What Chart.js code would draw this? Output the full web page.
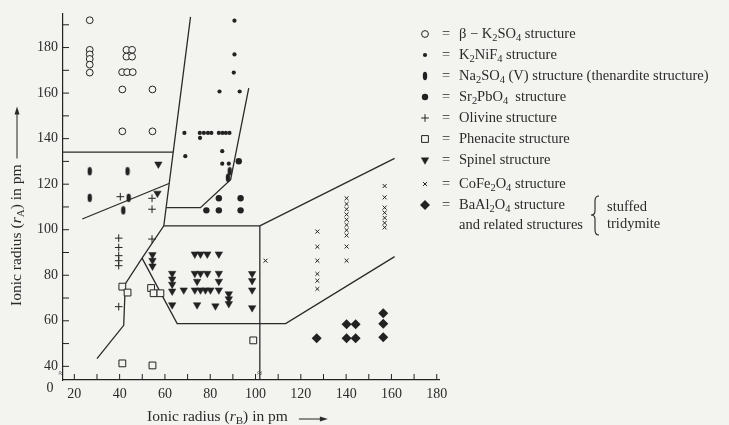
<!DOCTYPE html>
<html>
<head>
<meta charset="utf-8">
<script src="https://cdn.jsdelivr.net/npm/chart.js@4.4.1/dist/chart.umd.min.js"></script>
<style>
html,body{margin:0;padding:0;background:#f3f3f0;}
#wrap{width:729px;height:425px;position:relative;}
</style>
</head>
<body>
<div id="wrap"><canvas id="chart" width="729" height="425"></canvas></div>
<script>
// ionic radius r_B (x) and r_A (y), pm
var betaK2SO4 = [[26.8,192],[26.8,179],[26.8,177],[26.8,175],[26.8,172.5],[26.8,169],
  [43,179],[45.5,179],[43,176],[45.5,176],[41.1,169.2],[43.3,169.2],[45.8,169.2],
  [41.2,161.6],[54.5,161.6],[41.2,143.2],[54.5,143.2]];
var k2NiF4 = [[90.7,191.8],[90.7,177],[90.4,169],[84.1,160.7],[93,160.7],[68.6,142.5],[69,132.3],
  [75.4,142.5],[77.2,142.5],[79,142.5],[80.5,142.5],[75.5,140.3],[83.8,142.5],[85.4,142.5],
  [86.9,142.5],[88.5,142.5],[85.3,134.5],[85.3,129],[88.2,129]];
var na2SO4 = [[26.8,125.7],[26.8,114],[43.5,125.7],[44,114],[41.6,108.5],[88.6,125.7],[87.8,122.8]];
var sr2PbO4 = [[83.8,113.8],[93.4,113.8],[78.3,108.5],[83.8,108.5],[93.4,108.5],[92.6,130.1]];
var olivine = [[40.3,114.5],[54.3,113.8],[54.3,109],[39.6,96.3],[39.6,92.2],[39.6,88.6],[39.6,86.4],
  [39.6,84.2],[39.6,66.2],[54.3,95.9]];
var phenacite = [[41.2,41.3],[54.5,40.4],[41.2,75],[43.5,72.4],[53.9,74.4],[55,72.1],[58,72.1],[99,51.4]];
var spinel = [[57.1,128.8],[56.7,116],[54.5,89],[54.5,86.5],[54.5,84],
  [63.2,80.8],[63.2,78.3],[63.2,76],[63.2,73],[63.2,67],[68.3,73.5],
  [73.2,89.3],[73.2,80.8],[73.2,73.5],[74.2,77.3],[74.2,67],[75.7,89.3],[75.7,80.8],[75.7,73.5],
  [77.9,73.5],[78.7,89.3],[78.7,80.8],[80.1,73.5],[83.8,89.3],[83.8,80.8],[83.8,77.3],[83.8,73.5],
  [82.3,66.5],[88.2,71.8],[88.2,69.6],[88.2,67.5],[98.5,80.7],[98.5,77.6],[98.5,73.5],[98.5,65.7]];
var coFe2O4 = [[104.4,86.4],[127.3,99.2],[127.3,92.5],[127.3,86.4],[127.3,80.6],[127.3,77.6],[127.3,74],
  [140.2,113.8],[140.2,111.3],[140.2,109],[140.2,106.7],[140.2,104.4],[140.2,102.1],[140.2,99.8],
  [140.2,97.5],[140.2,92.6],[140.2,86.4],
  [157,119.2],[157,114.2],[157,109.7],[157,107.5],[157,105.2],[157,103],[157,101]];
var baAl2O4 = [[127,52.3],[140.2,58.5],[144.2,58.5],[140.2,52.3],[144.2,52.3],[156.4,63.3],[156.4,58.7],[156.4,52.8]];

// field boundaries
var boundaryMain = [[71.3,193.5],[59.5,101.7],[49.9,87.5],[42.5,76.2],[41.8,58],[30,43.4]];
var boundaryTop = [[15,134.1],[63.6,134.1]];
var boundaryNa = [[23.5,104.7],[61.8,120.3]];
var boundaryK2NiF4 = [[60.6,109.7],[75.7,109.7],[89,122],[97,162.2]];
var boundaryMid = [[59.5,101.7],[101.9,101.7],[101.9,34]];
var boundaryRight = [[101.9,101.7],[161.4,131.3]];
var boundarySpinel = [[49.9,87.5],[65.4,58.8],[113.3,58.8],[161.4,88.2]];

var xTicks = [20,40,60,80,100,120,140,160,180];
var yTicks = [40,60,80,100,120,140,160,180];

var legendLabels = ['β − K_2SO_4 structure', 'K_2NiF_4 structure',
  'Na_2SO_4 (V) structure (thenardite structure)', 'Sr_2PbO_4  structure',
  'Olivine structure', 'Phenacite structure', 'Spinel structure',
  'CoFe_2O_4 structure', 'BaAl_2O_4 structure'];

var ink = '#222';
var FONT = '"Liberation Serif", "DejaVu Serif", serif';

// elongated dot for the thenardite points
var oval = document.createElement('canvas');
oval.width = 6; oval.height = 10;
var oc = oval.getContext('2d');
oc.fillStyle = ink;
oc.beginPath(); oc.ellipse(3, 5, 2.2, 4.2, 0, 0, Math.PI * 2); oc.fill();

var markers = [
  {pointStyle:'circle', radius:3.4, backgroundColor:'#f3f3f0', borderColor:ink, borderWidth:1},
  {pointStyle:'circle', radius:2.1, backgroundColor:ink, borderColor:ink, borderWidth:0},
  {pointStyle:oval, radius:4, backgroundColor:ink, borderColor:ink, borderWidth:0},
  {pointStyle:'circle', radius:3.2, backgroundColor:ink, borderColor:ink, borderWidth:0},
  {pointStyle:'cross', radius:3.8, backgroundColor:ink, borderColor:ink, borderWidth:1},
  {pointStyle:'rect', radius:4.8, backgroundColor:'#f3f3f0', borderColor:ink, borderWidth:1},
  {pointStyle:'triangle', radius:4.3, rotation:180, backgroundColor:ink, borderColor:ink, borderWidth:0.5},
  {pointStyle:'crossRot', radius:2.8, backgroundColor:ink, borderColor:ink, borderWidth:1},
  {pointStyle:'rectRot', radius:5, backgroundColor:ink, borderColor:ink, borderWidth:0}
];
var series = [betaK2SO4, k2NiF4, na2SO4, sr2PbO4, olivine, phenacite, spinel, coFe2O4, baAl2O4];
var boundaries = [boundaryMain, boundaryTop, boundaryNa, boundaryK2NiF4, boundaryMid, boundaryRight, boundarySpinel];

function pts(a) { return a.map(function(p){ return {x:p[0], y:p[1]}; }); }

var datasets = [];
series.forEach(function(s, i) {
  var m = markers[i];
  datasets.push({
    label: legendLabels[i], data: pts(s), showLine:false,
    pointStyle: m.pointStyle, pointRadius: m.radius, pointRotation: m.rotation || 0,
    pointBackgroundColor: m.backgroundColor, pointBorderColor: m.borderColor,
    pointBorderWidth: m.borderWidth, pointHoverRadius: m.radius
  });
});
boundaries.forEach(function(b) {
  datasets.push({
    data: pts(b), showLine:true, borderColor:'#2a2a2a', borderWidth:1.3,
    pointRadius:0, fill:false, tension:0
  });
});

// text with "_x" subscripts
function segs(str) {
  var out = [], buf = '';
  for (var i = 0; i < str.length; i++) {
    if (str[i] === '_') { if (buf) out.push([buf,'n']); buf=''; out.push([str[i+1],'s']); i++; }
    else buf += str[i];
  }
  if (buf) out.push([buf,'n']);
  return out;
}
function drawSegs(ctx, list, x, y, size) {
  var cx = x;
  list.forEach(function(s) {
    var fs = s[1] === 's' ? size * 0.72 : size;
    ctx.font = (s[1] === 'i' ? 'italic ' : '') + fs + 'px ' + FONT;
    ctx.fillText(s[0], cx, y + (s[1] === 's' ? size * 0.28 : 0));
    cx += ctx.measureText(s[0]).width;
  });
  return cx;
}
function arrow(ctx, x0, x1, y) {
  ctx.beginPath(); ctx.moveTo(x0, y); ctx.lineTo(x1 - 6, y); ctx.stroke();
  ctx.beginPath(); ctx.moveTo(x1, y); ctx.lineTo(x1 - 8, y - 2.5); ctx.lineTo(x1 - 8, y + 2.5); ctx.closePath(); ctx.fill();
}

var LEG = 14.5;   // legend font size
var decor = {
  id: 'decor',
  afterDraw: function(chart) {
    var ctx = chart.ctx, a = chart.chartArea, xs = chart.scales.x, ys = chart.scales.y;
    ctx.save();
    ctx.strokeStyle = ink; ctx.fillStyle = '#2b2b2b'; ctx.lineWidth = 1;
    // inward tick marks
    xs.ticks.forEach(function(t) {
      var px = xs.getPixelForValue(t.value);
      ctx.beginPath(); ctx.moveTo(px, a.bottom); ctx.lineTo(px, a.bottom - 6); ctx.stroke();
    });
    ys.ticks.forEach(function(t) {
      var py = ys.getPixelForValue(t.value);
      ctx.beginPath(); ctx.moveTo(a.left, py); ctx.lineTo(a.left + 6, py); ctx.stroke();
    });
    // broken-axis zero and break marks
    ctx.textBaseline = 'middle'; ctx.textAlign = 'center';
    ctx.font = '14px ' + FONT;
    ctx.fillText('0', 50, 388);
    ctx.font = '9px ' + FONT;
    ctx.fillText('≈', a.left - 2, a.bottom - 6);
    ctx.fillText('≈', xs.getPixelForValue(101.9), a.bottom - 6);
    ctx.textAlign = 'left';

    // axis titles
    var end = drawSegs(ctx, [['Ionic radius (','n'],['r','i'],['B','s'],[') in pm','n']], 147, 417, 15.5);
    arrow(ctx, end + 11, end + 40, 419);
    ctx.save();
    ctx.translate(17, 306); ctx.rotate(-Math.PI / 2);
    end = drawSegs(ctx, [['Ionic radius (','n'],['r','i'],['A','s'],[') in pm','n']], 0, 0, 15.5);
    arrow(ctx, end + 6, end + 58, 0);
    ctx.restore();

    // legend
    var rows = [34, 55, 76, 97, 118, 139, 160, 184, 205];
    legendLabels.forEach(function(lbl, i) {
      var m = markers[i];
      ctx.fillStyle = m.backgroundColor; ctx.strokeStyle = m.borderColor;
      ctx.lineWidth = m.borderWidth;
      Chart.helpers.drawPoint(ctx, {pointStyle:m.pointStyle, radius:m.radius, rotation:m.rotation || 0, borderWidth:m.borderWidth}, 425, rows[i]);
      ctx.fillStyle = '#2b2b2b';
      ctx.font = LEG + 'px ' + FONT;
      ctx.fillText('=', 442, rows[i]);
      drawSegs(ctx, segs(lbl), 459, rows[i], LEG);
    });
    ctx.font = LEG + 'px ' + FONT;
    ctx.fillText('and related structures', 459, 225);
    var bx = 459 + ctx.measureText('and related structures').width + 12;
    // brace + note
    ctx.strokeStyle = ink; ctx.lineWidth = 1.1;
    var top = 196, bot = 235, mid = 215;
    ctx.beginPath();
    ctx.moveTo(bx + 4, top); ctx.quadraticCurveTo(bx, top, bx, top + 5);
    ctx.lineTo(bx, mid - 4); ctx.quadraticCurveTo(bx, mid, bx - 4, mid);
    ctx.quadraticCurveTo(bx, mid, bx, mid + 4); ctx.lineTo(bx, bot - 5);
    ctx.quadraticCurveTo(bx, bot, bx + 4, bot);
    ctx.stroke();
    ctx.fillText('stuffed', bx + 12, 207);
    ctx.fillText('tridymite', bx + 12, 224);
    ctx.restore();
  }
};

new Chart(document.getElementById('chart'), {
  type: 'scatter',
  data: { datasets: datasets },
  options: {
    responsive: false, animation: false, devicePixelRatio: 1,
    layout: { padding: { left: 0, top: 12, right: 290, bottom: 0 } },
    plugins: { legend: { display: false }, tooltip: { enabled: false } },
    scales: {
      x: {
        type: 'linear', min: 15, max: 181,
        grid: { display: false, drawTicks: false },
        border: { display: true, color: ink, width: 1.2 },
        ticks: { stepSize: 10, includeBounds: false, autoSkip: false, maxRotation: 0, padding: 6,
          color: '#2b2b2b', font: { family: FONT, size: 14 },
          callback: function(v) { return xTicks.indexOf(v) >= 0 ? String(v) : ''; } },
        afterFit: function(s) { s.height = 45; }
      },
      y: {
        type: 'linear', min: 34, max: 195,
        grid: { display: false, drawTicks: false },
        border: { display: true, color: ink, width: 1.2 },
        ticks: { stepSize: 10, includeBounds: false, autoSkip: false, padding: 5,
          color: '#2b2b2b', font: { family: FONT, size: 14 },
          callback: function(v) { return yTicks.indexOf(v) >= 0 ? String(v) : ''; } },
        afterFit: function(s) { s.width = 63; }
      }
    }
  },
  plugins: [decor]
});
</script>
</body>
</html>
